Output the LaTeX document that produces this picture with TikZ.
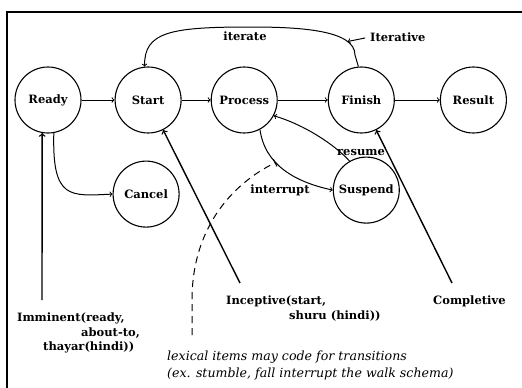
\documentclass[tikz,border=0pt]{standalone}
\usepackage{fontspec}
\setmainfont{DejaVu Serif}
\usepackage{tikz}
\usetikzlibrary{arrows,calc}
\usetikzlibrary{positioning}
\tikzstyle{statenode} = [draw,circle,line width=1.1pt,minimum size=66pt,inner sep=0pt,font=\fontsize{11.5}{14}\selectfont\bfseries]
\tikzstyle{tagnode} = [inner sep=0pt,align=left,font=\fontsize{11.5}{14.5}\selectfont\bfseries]
\tikzstyle{lexnode} = [inner sep=0pt,align=left,font=\fontsize{12.6}{16.5}\selectfont\itshape]
\tikzstyle{edge} = [->,line width=1pt]
\tikzstyle{pointer} = [->,line width=1.4pt]

\begin{document}
\begin{tikzpicture}[x=1pt,y=-1pt,>=to]
%
\useasboundingbox (0,0) rectangle (522,388);
\draw [line width=1.2pt] (7,388) |- (522,12);

\node (ready) [statenode] at (48,100) {Ready};
\node (start) [statenode, right = 33pt of ready] {Start};
\node (process) [statenode, right = 29pt of start] {Process};
\node (finish) [statenode, right = 50pt of process] {Finish};
\node (result) [statenode, right = 45pt of finish] {Result};
\node (cancel) [statenode, below = 27pt of start, xshift=-2pt] {Cancel};
\node (suspend) [statenode, below = 23pt of finish, xshift=5pt] {Suspend};

\node (imminent) [tagnode, anchor=north west] at (17,313)
  {Imminent(ready,\\\hspace*{64pt}about-to,\\\hspace*{26pt}thayar(hindi))};
\node (inceptive) [tagnode, anchor=north west] at (226,296)
  {Inceptive(start,\\\hspace*{63pt}shuru (hindi))};
\node (completive) [tagnode, anchor=north west] at (433,296) {Completive};
\node (lexical) [lexnode, anchor=north west] at (167,351)
  {lexical items may code for transitions\\(ex. stumble, fall interrupt the walk schema)};

\node (iterlabel) [tagnode] at (245,36) {iterate};
\node (iterative) [tagnode, anchor=west] at (370,37) {Iterative};
\node (resumelabel) [tagnode] at (361,153) {resume};
\node (interlabel) [tagnode] at (280,190) {interrupt};

\coordinate (immtop) at ($ (imminent.north west)+(25,-13) $);
\coordinate (inctop) at ($ (inceptive.north west)+(14,-13) $);
\coordinate (comtop) at ($ (completive.north west)+(19,-13) $);
\coordinate (lexfoot) at ($ (lexical.north west)+(25,-16) $);

%
\draw [edge] (ready) to (start);
\draw [edge] (start) to (process);
\draw [edge] (process) to (finish);
\draw [edge] (finish) to (result);
\draw [edge] (ready.-80) .. controls (52,200) and (70,196) .. (cancel.west);
\draw [edge] (process.-62) .. controls (265,165) and (295,182) .. coordinate[pos=0.38] (interhit) (suspend.west);
\draw [edge] (suspend.120) .. controls (335,145) and (305,125) .. (process.-28);
\draw [edge] (finish.95) -- (355,55) .. controls (355,30) and (300,27) .. coordinate[pos=0.22] (iterhit) (250,27)
  .. controls (170,27) and (144,32) .. (start.96);
\draw [edge, shorten <=5pt] (iterative.west) to (iterhit);

\draw [pointer] (immtop) to (ready.-100);
\draw [pointer] (inctop) to (start);
\draw [pointer] (comtop) to (finish);
\draw [-|,line width=1pt,dash pattern=on 7pt off 5pt] (lexfoot) -- ($ (lexfoot)+(0,-35) $)
  .. controls (192,230) and (230,185) .. (interhit);
\end{tikzpicture}
\end{document}
